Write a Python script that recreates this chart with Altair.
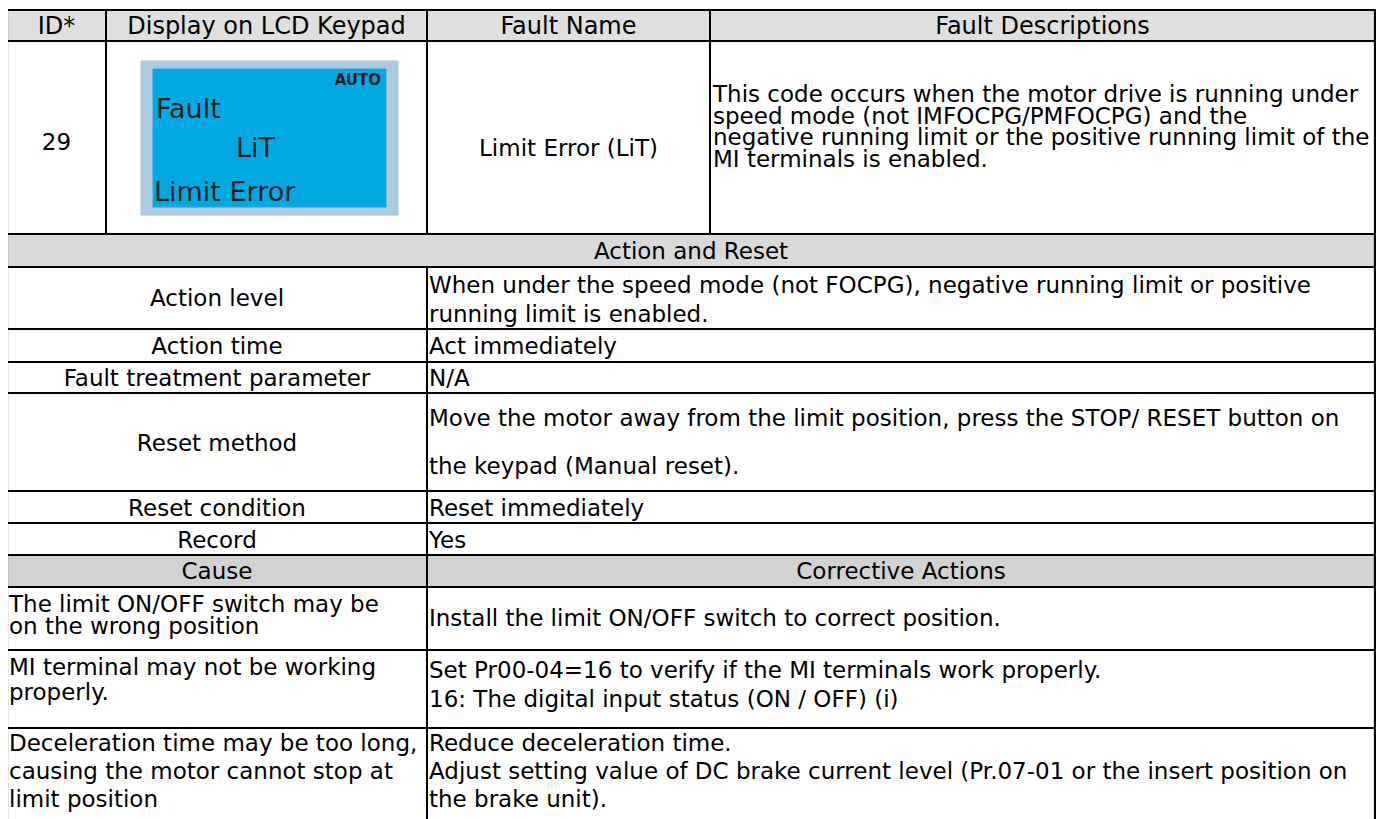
import altair as alt
import pandas as pd

# ---------------- text content ----------------
header_labels = ["ID*", "Display on LCD Keypad", "Fault Name", "Fault Descriptions"]
fault_id = "29"
fault_name = "Limit Error (LiT)"
description_lines = [
    "This code occurs when the motor drive is running under",
    "speed mode (not IMFOCPG/PMFOCPG) and the",
    "negative running limit or the positive running limit of the",
    "MI terminals is enabled.",
]
lcd_status = "AUTO"
lcd_lines = ["Fault", "LiT", "Limit Error"]
section_action = "Action and Reset"
action_labels = ["Action level", "Action time", "Fault treatment parameter",
                 "Reset method", "Reset condition", "Record"]
action_values = [
    ["When under the speed mode (not FOCPG), negative running limit or positive",
     "running limit is enabled."],
    ["Act immediately"],
    ["N/A"],
    ["Move the motor away from the limit position, press the STOP/ RESET button on",
     "the keypad (Manual reset)."],
    ["Reset immediately"],
    ["Yes"],
]
cause_header = ["Cause", "Corrective Actions"]
causes = [
    ["The limit ON/OFF switch may be", "on the wrong position"],
    ["MI terminal may not be working", "properly."],
    ["Deceleration time may be too long,", "causing the motor cannot stop at", "limit position"],
]
actions = [
    ["Install the limit ON/OFF switch to correct position."],
    ["Set Pr00-04=16 to verify if the MI terminals work properly.",
     "16: The digital input status (ON / OFF) (i)"],
    ["Reduce deceleration time.",
     "Adjust setting value of DC brake current level (Pr.07-01 or the insert position on",
     "the brake unit)."],
]

# ---------------- layout (pixel grid of the page) ----------------
W, H = 1368, 811
OX, OY = 8, 8
XL, XID, XDISP, XNAME, XR = 7, 106, 427, 710, 1375
Y_TOP, Y_HDR, Y_ROW = 10, 41, 234
LOWER = [234, 267, 329, 362, 393, 491, 523, 555, 587, 650, 728, 840]
FONT = "DejaVu Sans"
FS = 23.0
FS_HDR = 24

hdr_base = 34
action_label_base = [306, 354, 386, 451, 516, 548]
action_val_base = [[293, 322], [354], [386], [426, 474], [516], [548]]
cause_hdr_base = 579
cause_base = [[612, 634], [675, 700], [751, 779, 807]]
act_base = [[626], [678, 707], [751, 779, 807]]
desc_base = [102, 123.5, 145, 166.5]

# ---------------- tables ----------------
rects = pd.DataFrame([
    dict(x=XL, x2=XR, y=Y_TOP, y2=Y_HDR, fill="#dfdfdf", stroke="#dfdfdf", sw=0),
    dict(x=XL, x2=XR, y=LOWER[0], y2=LOWER[1], fill="#d9d9d9", stroke="#d9d9d9", sw=0),
    dict(x=XL, x2=XR, y=LOWER[7], y2=LOWER[8], fill="#d2d2d2", stroke="#d2d2d2", sw=0),
    dict(x=141, x2=398, y=61, y2=215, fill="#a9cbe0", stroke="#b3bddc", sw=1),
    dict(x=153, x2=386, y=69, y2=207, fill="#00a9e2", stroke="#3d9fd6", sw=1),
])

segs = []
for yy in [Y_TOP, Y_HDR, Y_ROW] + LOWER[1:-1]:
    segs.append(dict(x=XL, x2=XR, y=yy, y2=yy, w=2))
segs += [
    dict(x=XL, x2=XL, y=Y_TOP, y2=LOWER[-1], w=2.2),
    dict(x=XR, x2=XR, y=Y_TOP, y2=LOWER[-1], w=2.2),
    dict(x=XID, x2=XID, y=Y_TOP, y2=Y_ROW, w=2),
    dict(x=XDISP, x2=XDISP, y=Y_TOP, y2=Y_ROW, w=2),
    dict(x=XNAME, x2=XNAME, y=Y_TOP, y2=Y_ROW, w=2),
    dict(x=XDISP, x2=XDISP, y=LOWER[1], y2=LOWER[-1], w=2),
]
segs = pd.DataFrame(segs)

hdr_rows = []
cols = [XL, XID, XDISP, XNAME, XR]
for i, lab in enumerate(header_labels):
    hdr_rows.append(dict(x=(cols[i] + cols[i + 1]) / 2, y=hdr_base, t=lab))
hdr_df = pd.DataFrame(hdr_rows)

center_rows = []
center_rows.append(dict(x=(XL + XID) / 2, y=150, t=fault_id))
center_rows.append(dict(x=(XDISP + XNAME) / 2, y=156, t=fault_name))
center_rows.append(dict(x=(XL + XR) / 2, y=259, t=section_action))
for lab, b in zip(action_labels, action_label_base):
    center_rows.append(dict(x=(XL + XDISP) / 2, y=b, t=lab))
center_rows.append(dict(x=(XL + XDISP) / 2, y=cause_hdr_base, t=cause_header[0]))
center_rows.append(dict(x=(XDISP + XR) / 2, y=cause_hdr_base, t=cause_header[1]))
center_df = pd.DataFrame(center_rows)

left_rows = []
for line, b in zip(description_lines, desc_base):
    left_rows.append(dict(x=XNAME + 3, y=b, t=line))
for vals, bs in zip(action_values, action_val_base):
    for line, b in zip(vals, bs):
        left_rows.append(dict(x=XDISP + 2, y=b, t=line))
for vals, bs in zip(causes, cause_base):
    for line, b in zip(vals, bs):
        left_rows.append(dict(x=XL + 2, y=b, t=line))
for vals, bs in zip(actions, act_base):
    for line, b in zip(vals, bs):
        left_rows.append(dict(x=XDISP + 2, y=b, t=line))
left_df = pd.DataFrame(left_rows)

lcd_df = pd.DataFrame([
    dict(x=156, y=118, t=lcd_lines[0]),
    dict(x=236, y=157, t=lcd_lines[1]),
    dict(x=154, y=201, t=lcd_lines[2]),
])
auto_df = pd.DataFrame([dict(x=381, y=85, t=lcd_status)])

xs = alt.Scale(domain=[OX, OX + W], nice=False, zero=False)
ys = alt.Scale(domain=[OY, OY + H], nice=False, zero=False, reverse=True)


def X(f="x"):
    return alt.X(f"{f}:Q", scale=xs, axis=None)


def Y(f="y"):
    return alt.Y(f"{f}:Q", scale=ys, axis=None)


rect_layer = alt.Chart(rects).mark_rect().encode(
    x=X(), x2="x2:Q", y=Y(), y2="y2:Q",
    fill=alt.Fill("fill:N", scale=None),
    stroke=alt.Stroke("stroke:N", scale=None),
    strokeWidth=alt.StrokeWidth("sw:Q", scale=None),
)

rule_layer = alt.Chart(segs).mark_rule(color="black", strokeCap="square").encode(
    x=X(), x2="x2:Q", y=Y(), y2="y2:Q",
    strokeWidth=alt.StrokeWidth("w:Q", scale=None),
)

hdr_layer = alt.Chart(hdr_df).mark_text(
    font=FONT, fontSize=FS_HDR, align="center", baseline="alphabetic", color="black"
).encode(x=X(), y=Y(), text="t:N")

center_layer = alt.Chart(center_df).mark_text(
    font=FONT, fontSize=FS, align="center", baseline="alphabetic", color="black"
).encode(x=X(), y=Y(), text="t:N")

left_layer = alt.Chart(left_df).mark_text(
    font=FONT, fontSize=FS, align="left", baseline="alphabetic", color="black"
).encode(x=X(), y=Y(), text="t:N")

lcd_layer = alt.Chart(lcd_df).mark_text(
    font="DejaVu Sans", fontSize=27, align="left", baseline="alphabetic", color="#231f20"
).encode(x=X(), y=Y(), text="t:N")

auto_layer = alt.Chart(auto_df).mark_text(
    font="DejaVu Sans", fontSize=15, fontWeight="bold", align="right",
    baseline="alphabetic", color="#231f20"
).encode(x=X(), y=Y(), text="t:N")

chart = alt.layer(
    rect_layer, rule_layer, hdr_layer, center_layer, left_layer, lcd_layer, auto_layer
).properties(
    width=W, height=H, padding=0, background="white",
    autosize=alt.AutoSizeParams(type="none"),
).configure_view(stroke=None)

chart.save("out.html", embed_options={"renderer": "svg", "actions": False})
